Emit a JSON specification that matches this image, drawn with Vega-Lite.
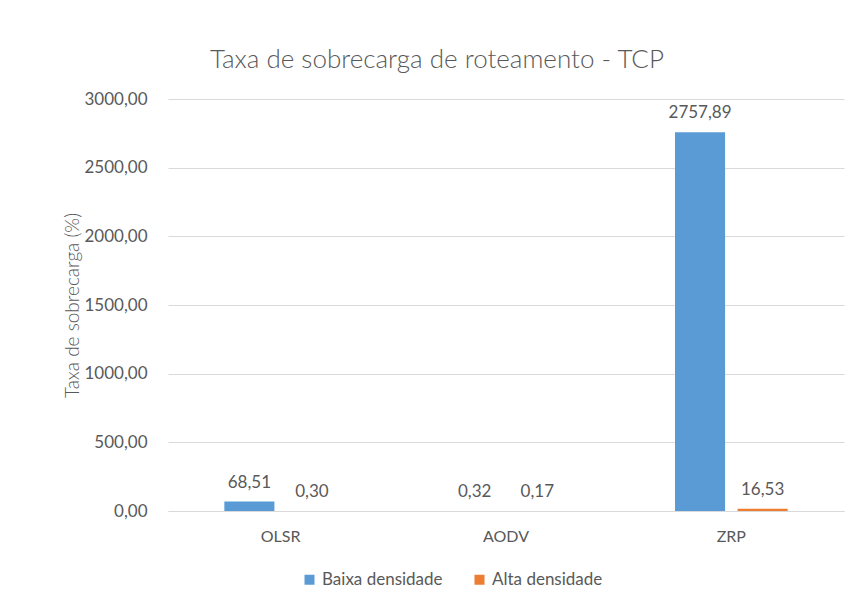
{
  "$schema": "https://vega.github.io/schema/vega-lite/v6.json",
  "autosize": {"type": "none"},
  "width": 676,
  "height": 412,
  "padding": {"left": 168, "top": 99, "right": 24, "bottom": 105},
  "background": "white",
  "title": {
    "text": "Taxa de sobrecarga de roteamento - TCP",
    "fontSize": 26,
    "font": "Lato",
    "fontWeight": 300,
    "color": "#595959",
    "anchor": "middle",
    "dx": -69,
    "offset": 17
  },
  "data": {
    "values": [
      {"protocolo": "OLSR", "serie": "Baixa densidade", "valor": 68.51},
      {"protocolo": "OLSR", "serie": "Alta densidade", "valor": 0.30},
      {"protocolo": "AODV", "serie": "Baixa densidade", "valor": 0.32},
      {"protocolo": "AODV", "serie": "Alta densidade", "valor": 0.17},
      {"protocolo": "ZRP", "serie": "Baixa densidade", "valor": 2757.89},
      {"protocolo": "ZRP", "serie": "Alta densidade", "valor": 16.53}
    ]
  },
  "encoding": {
    "x": {
      "field": "protocolo",
      "type": "nominal",
      "sort": ["OLSR", "AODV", "ZRP"],
      "scale": {"paddingInner": 0.5, "paddingOuter": 0.25},
      "axis": {
        "title": null,
        "labelAngle": 0,
        "labelFontSize": 16,
        "labelColor": "#595959",
        "labelFont": "Lato",
        "labelPadding": 17,
        "ticks": false,
        "domainColor": "#D9D9D9",
        "domainWidth": 1
      }
    },
    "xOffset": {
      "field": "serie",
      "type": "nominal",
      "sort": ["Baixa densidade", "Alta densidade"],
      "scale": {"paddingInner": 0.2, "paddingOuter": 0}
    },
    "y": {
      "field": "valor",
      "type": "quantitative",
      "scale": {"domain": [0, 3000]},
      "axis": {
        "title": "Taxa de sobrecarga (%)",
        "titleFont": "Lato",
        "titleFontSize": 19,
        "titleFontWeight": 300,
        "titleColor": "#595959",
        "titlePadding": 1,
        "values": [0, 500, 1000, 1500, 2000, 2500, 3000],
        "format": ".2f",
        "labelFontSize": 17,
        "labelFont": "Lato",
        "labelColor": "#595959",
        "labelPadding": 21,
        "ticks": false,
        "domain": false,
        "gridColor": "#D9D9D9",
        "gridWidth": 1
      }
    }
  },
  "layer": [
    {
      "mark": {"type": "bar"},
      "encoding": {
        "color": {
          "field": "serie",
          "type": "nominal",
          "sort": ["Baixa densidade", "Alta densidade"],
          "scale": {"domain": ["Baixa densidade", "Alta densidade"], "range": ["#5B9BD5", "#ED7D31"]},
          "legend": {
            "title": null,
            "orient": "none",
            "direction": "horizontal",
            "legendX": 133,
            "legendY": 472,
            "symbolType": "square",
            "symbolSize": 100,
            "symbolStrokeWidth": 0,
            "labelFontSize": 17,
            "labelFont": "Lato",
            "labelColor": "#595959",
            "columnPadding": 28,
            "labelOffset": 4
          }
        }
      }
    },
    {
      "mark": {"type": "text", "baseline": "bottom", "dy": -10, "fontSize": 17, "font": "Lato", "color": "#595959"},
      "encoding": {
        "text": {"field": "valor", "type": "quantitative", "format": ".2f"}
      }
    }
  ],
  "config": {
    "view": {"stroke": null},
    "locale": {
      "number": {"decimal": ",", "thousands": ".", "grouping": [3], "currency": ["R$", ""]}
    }
  }
}
